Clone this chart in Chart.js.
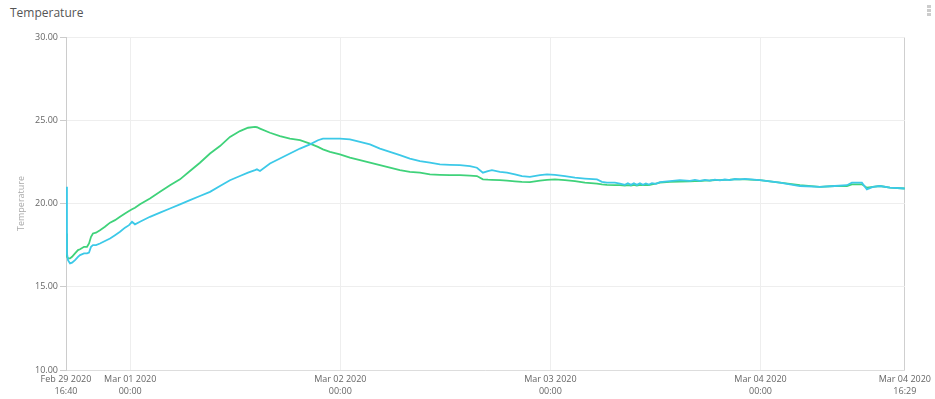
<!DOCTYPE html>
<html>
<head>
<meta charset="utf-8">
<script src="https://cdn.jsdelivr.net/npm/chart.js@4.4.1/dist/chart.umd.min.js"></script>
<style>
  html, body { margin: 0; padding: 0; background: #fff; }
  .widget { position: relative; width: 935px; height: 399px; overflow: hidden; }
  .widget-title {
    position: absolute; left: 10px; top: 4px;
    font: 12px "Open Sans", sans-serif; color: #555;
  }
  .widget-menu { position: absolute; left: 927px; top: 5px; }
  .widget-menu span { display: block; width: 4px; height: 3px; margin-bottom: 1px; background: #ccc; }
  .chart-box { position: absolute; left: 0; top: 0; width: 935px; height: 399px; }
</style>
</head>
<body>
<div class="widget">
  <div class="widget-title">Temperature</div>
  <div class="widget-menu"><span></span><span></span><span></span></div>
  <div class="chart-box"><canvas id="tempChart"></canvas></div>
</div>
<script>
// hours since Feb 29 2020 16:40
const hours = [
  0, 0.11, 0.23, 0.46, 0.69, 1.03, 1.37, 1.60, 2.06, 2.40, 2.63, 2.86, 3.08, 3.43, 3.88,
  4.45, 5.03, 5.60, 6.17, 6.74, 7.20, 7.54, 7.88, 8.45, 9.59, 10.74, 11.88, 13.02, 14.16,
  15.30, 16.45, 17.59, 18.73, 19.87, 20.79, 21.59, 21.81, 22.16, 23.30, 24.44, 25.58,
  26.73, 27.87, 28.78, 29.35, 30.15, 31.29, 32.43, 33.58, 34.72, 35.86, 37.00, 38.14,
  39.28, 40.43, 41.57, 42.71, 43.85, 45.00, 46.14, 46.94, 47.62, 48.19, 48.65, 49.57,
  50.37, 51.28, 52.08, 52.99, 54.14, 54.94, 55.85, 56.99, 58.13, 59.27, 60.65, 61.22,
  61.79, 62.70, 63.27, 63.84, 64.18, 64.53, 64.87, 65.21, 65.56, 65.90, 66.24, 66.58,
  66.93, 67.38, 67.84, 68.98, 70.12, 71.27, 71.84, 72.41, 72.98, 73.55, 74.12, 74.69,
  75.26, 75.84, 76.41, 76.98, 77.55, 79.26, 81.55, 83.83, 86.11, 87.83, 89.20, 89.77,
  90.91, 91.48, 92.17, 92.97, 94.11, 95.82
];

const sensorA = [ // cyan
  21.0, 17.0, 16.6, 16.4, 16.45, 16.6, 16.8, 16.9, 17.0, 17.0, 17.05, 17.4, 17.5, 17.5, 17.6,
  17.75, 17.9, 18.1, 18.3, 18.55, 18.7, 18.9, 18.75, 18.9, 19.2, 19.45, 19.7, 19.95, 20.2,
  20.45, 20.7, 21.05, 21.4, 21.65, 21.85, 22.0, 22.05, 21.95, 22.4, 22.7, 23.0,
  23.3, 23.55, 23.8, 23.9, 23.9, 23.9, 23.85, 23.7, 23.55, 23.3, 23.1, 22.9,
  22.7, 22.55, 22.45, 22.35, 22.32, 22.3, 22.25, 22.15, 21.85, 21.95, 22.0, 21.9,
  21.85, 21.75, 21.65, 21.6, 21.7, 21.75, 21.72, 21.65, 21.55, 21.5, 21.45, 21.3,
  21.25, 21.25, 21.2, 21.12, 21.22, 21.12, 21.22, 21.12, 21.22, 21.12, 21.2, 21.14,
  21.22, 21.18, 21.28, 21.35, 21.4, 21.36, 21.42, 21.36, 21.42, 21.37, 21.43, 21.39,
  21.44, 21.41, 21.47, 21.45, 21.48, 21.4, 21.25, 21.05, 21.0, 21.05, 21.1, 21.25,
  21.25, 20.85, 21.0, 21.05, 20.95, 20.9
];

const sensorB = [ // green
  18.2, 16.8, 16.7, 16.7, 16.8, 17.0, 17.2, 17.25, 17.4, 17.4, 17.6, 18.0, 18.2, 18.25, 18.4,
  18.6, 18.85, 19.0, 19.2, 19.4, 19.55, 19.65, 19.75, 19.95, 20.3, 20.7, 21.1, 21.45, 21.95,
  22.45, 23.0, 23.45, 24.0, 24.35, 24.55, 24.6, 24.58, 24.5, 24.25, 24.05, 23.9,
  23.8, 23.6, 23.4, 23.25, 23.1, 22.95, 22.75, 22.6, 22.45, 22.3, 22.15, 22.0,
  21.9, 21.85, 21.75, 21.72, 21.7, 21.7, 21.68, 21.65, 21.45, 21.43, 21.42, 21.4,
  21.37, 21.33, 21.3, 21.28, 21.38, 21.42, 21.45, 21.4, 21.35, 21.25, 21.2, 21.15,
  21.12, 21.1, 21.1, 21.08, 21.1, 21.08, 21.12, 21.08, 21.12, 21.1, 21.12, 21.1,
  21.15, 21.2, 21.25, 21.3, 21.32, 21.33, 21.35, 21.35, 21.37, 21.38, 21.4, 21.4,
  21.42, 21.43, 21.45, 21.45, 21.45, 21.4, 21.25, 21.1, 21.0, 21.05, 21.05, 21.15,
  21.15, 20.95, 21.0, 21.05, 20.95, 20.9
];

const tickHours = [0, 7.333, 31.333, 55.333, 79.333, 95.817];
const tickLabels = [
  ["Feb 29 2020", "16:40"],
  ["Mar 01 2020", "00:00"],
  ["Mar 02 2020", "00:00"],
  ["Mar 03 2020", "00:00"],
  ["Mar 04 2020", "00:00"],
  ["Mar 04 2020", "16:29"]
];

const yTicks = [10, 15, 20, 25, 30];

function toPoints(values) {
  return values.map((v, i) => ({ x: hours[i], y: v }));
}

const smallFont = { family: '"Open Sans", sans-serif', size: 9, lineHeight: 1.3 };

const config = {
  type: 'line',
  data: {
    datasets: [
      {
        label: 'Temperature A',
        data: toPoints(sensorA),
        borderColor: '#3cc9e8',
        borderWidth: 1.8,
        pointRadius: 0,
        tension: 0,
        fill: false
      },
      {
        label: 'Temperature B',
        data: toPoints(sensorB),
        borderColor: '#3fd27a',
        borderWidth: 1.8,
        pointRadius: 0,
        tension: 0,
        fill: false
      }
    ]
  },
  options: {
    responsive: true,
    maintainAspectRatio: false,
    animation: false,
    layout: { padding: { top: 37, right: 30, left: 0, bottom: 0 } },
    plugins: {
      legend: { display: false },
      tooltip: { enabled: false }
    },
    scales: {
      x: {
        type: 'linear',
        min: tickHours[0],
        max: tickHours[tickHours.length - 1],
        afterBuildTicks: scale => {
          scale.ticks = tickHours.map(v => ({ value: v }));
        },
        afterFit: scale => { scale.height = 29; },
        ticks: {
          autoSkip: false,
          maxRotation: 0,
          padding: 4,
          color: '#666',
          font: smallFont,
          callback: (value, index) => tickLabels[index]
        },
        grid: {
          drawTicks: false,
          color: ctx => ctx.index === tickHours.length - 1 ? '#cfcfcf' : '#eeeeee'
        },
        border: { color: '#dddddd' }
      },
      y: {
        min: yTicks[0],
        max: yTicks[yTicks.length - 1],
        afterBuildTicks: scale => {
          scale.ticks = yTicks.map(v => ({ value: v }));
        },
        afterFit: scale => { scale.width = 66; },
        ticks: {
          padding: 2,
          color: '#666',
          font: smallFont,
          callback: value => value.toFixed(2)
        },
        grid: {
          color: '#eeeeee',
          tickColor: '#cccccc',
          tickLength: 6
        },
        border: { color: '#cccccc' },
        title: {
          display: true,
          text: 'Temperature',
          color: '#aaaaaa',
          font: smallFont,
          padding: { top: 16, bottom: 0 }
        }
      }
    }
  }
};

new Chart(document.getElementById('tempChart'), config);
</script>
</body>
</html>
